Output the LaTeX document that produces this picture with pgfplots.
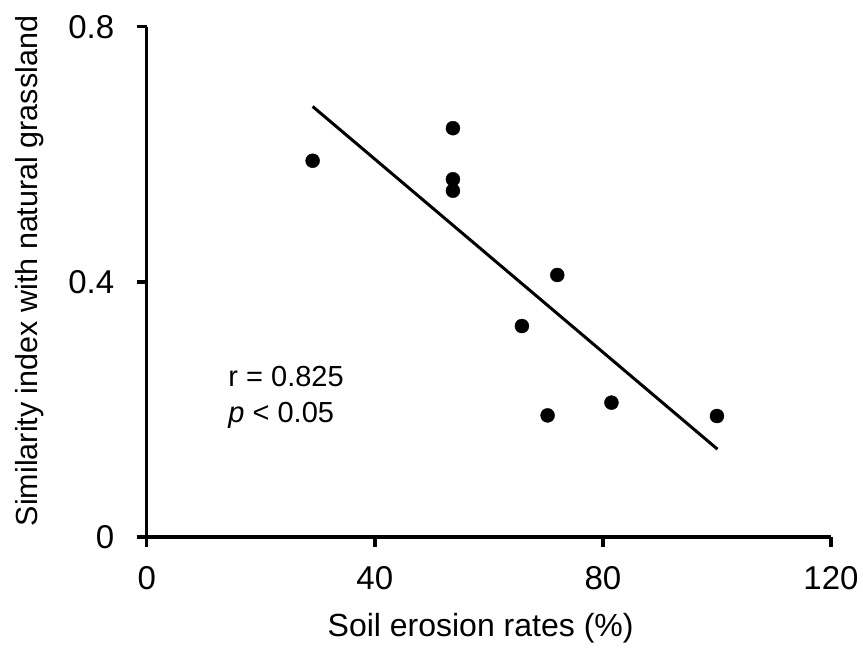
\documentclass[border=0pt]{standalone}
\usepackage{pgfplots}
\pgfplotsset{compat=1.18}
\usepackage{fontspec}
\setmainfont{Liberation Sans}
\begin{document}
\begin{tikzpicture}
\useasboundingbox (0pt,0pt) rectangle (863pt,654pt);
\begin{axis}[
  at={(146.7pt,116.7pt)}, anchor=south west,
  scale only axis, width=684.3pt, height=510.6pt,
  xmin=0, xmax=120, ymin=0, ymax=0.8,
  axis lines=left, axis line style={-, line width=3.6pt},
  xtick={0,40,80,120}, ytick={0,0.4,0.8},
  yticklabels={0,0.4,0.8},
  tick align=outside, major tick length=10pt,
  tick style={line width=3.6pt, black},
  /pgf/number format/assume math mode=true,
  ticklabel style={font=\fontsize{33}{38}\selectfont},
  xticklabel style={yshift=-16pt},
  yticklabel style={xshift=-19pt},
  xlabel={Soil erosion rates (\%)},
  ylabel={Similarity index with natural grassland},
  xlabel style={font=\fontsize{32}{36}\selectfont, at={(axis description cs:0.488,-0.1776)}, anchor=center},
  ylabel style={font=\fontsize{30.5}{35}\selectfont, at={(axis description cs:-0.1705,0.5215)}, anchor=center, rotate=0},
  clip=false,
]
\addplot[only marks, mark=*, mark size=7pt, black] coordinates {
 (29.1,0.590) (53.7,0.641) (53.7,0.561) (53.7,0.543) (72.0,0.411)
 (65.8,0.331) (70.3,0.191) (81.5,0.211) (100.0,0.190)
};
\addplot[black, line width=3pt, no marks] coordinates {(29.1,0.675) (100.1,0.138)};
\node[anchor=base west, font=\fontsize{29}{34}\selectfont, inner sep=0pt] at (axis cs:14.3,0.236) {r = 0.825};
\node[anchor=base west, font=\fontsize{29}{34}\selectfont, inner sep=0pt] at (axis cs:14.3,0.1795) {\textit{p} < 0.05};
\end{axis}
\end{tikzpicture}
\end{document}
